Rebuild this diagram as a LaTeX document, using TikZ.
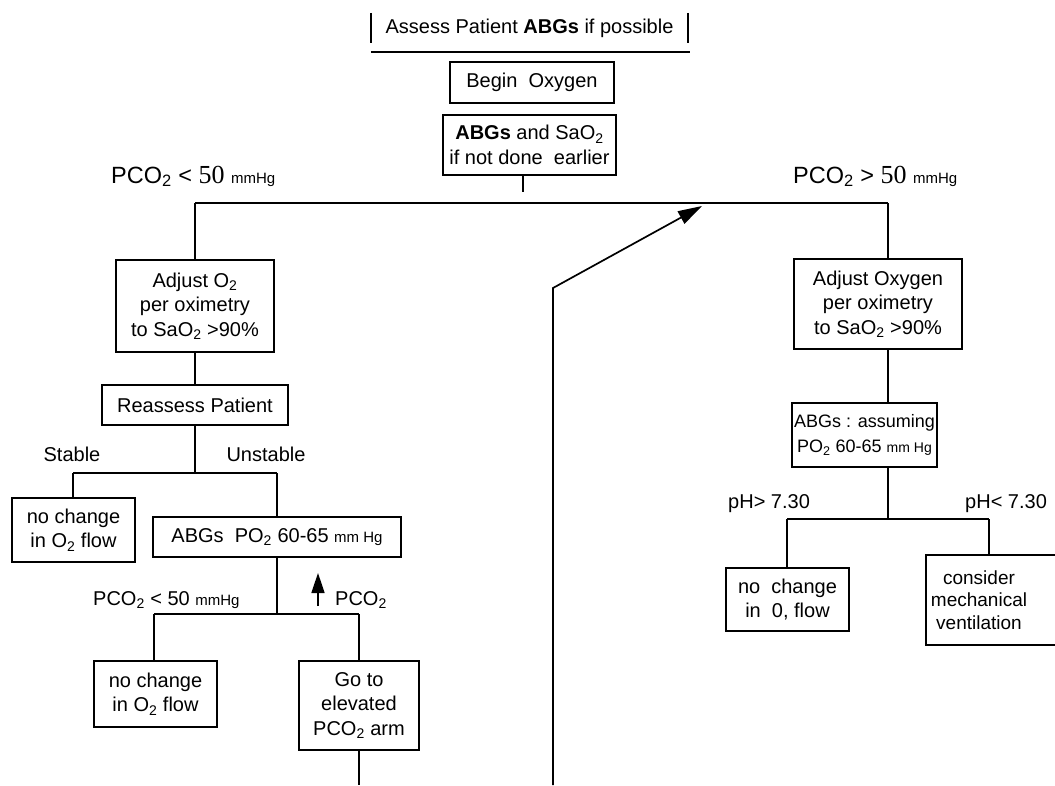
\documentclass[tikz,border=0pt]{standalone}
\usepackage{fontspec}
\setmainfont{Liberation Sans}
\newfontfamily\serifnum{Liberation Serif}
\usetikzlibrary{arrows.meta}
\newcommand{\bodyfs}{\fontsize{20}{24.5}\selectfont}
\newcommand{\smallfs}{\fontsize{15}{18}\selectfont}
\newcommand{\bigfs}{\fontsize{23.5}{27}\selectfont}
\newcommand{\sbt}{\textsubscript{2}}
\begin{document}
\begin{tikzpicture}[x=1pt,y=-1pt,
  box/.style={draw, line width=1.7pt, align=center, inner sep=0pt, font=\bodyfs},
  lab/.style={inner sep=0pt, font=\bodyfs},
  conn/.style={line width=1.7pt},
]
\useasboundingbox (0,0) rectangle (1055,785);
\clip (0,0) rectangle (1055,785);

% top
\node[lab, minimum width=317pt, minimum height=30pt] (assess) at (529.5,28) {Assess Patient \textbf{ABGs} if possible};
\draw[conn] (assess.north west) -- (assess.south west);
\draw[conn] (assess.north east) -- (assess.south east);
\draw[conn] ([yshift=-9pt]assess.south west) -- ([yshift=-9pt,xshift=2pt]assess.south east);

\node[box, minimum width=164pt, minimum height=41pt] (begin) at (532,82.5) {Begin\ \ Oxygen};
\node[box, minimum width=173pt, minimum height=60pt] (abg1) at (529.5,145) {\textbf{ABGs} and SaO\sbt\\if not done\ \ earlier};

\node[anchor=base west, inner sep=0pt, font=\bigfs] (topL) at (111,183) {PCO\sbt{} < {\serifnum\fontsize{26}{28}\selectfont 50} {\smallfs mmHg}};
\node[anchor=base west, inner sep=0pt, font=\bigfs] (topR) at (793,183) {PCO\sbt{} > {\serifnum\fontsize{26}{28}\selectfont 50} {\smallfs mmHg}};

\coordinate (stub) at (523,192);
\coordinate (hL) at (195,203);
\coordinate (hR) at (888,203);
\draw[conn] (stub |- abg1.south) -- (stub);
\draw[conn] (hL) -- (hR);

% left branch
\node[box, minimum width=158pt, minimum height=92pt] (adjL) at (195,306) {Adjust O\sbt\\per oximetry\\to SaO\sbt{} >90\%};
\node[box, minimum width=186pt, minimum height=40pt] (reassess) at (195,405) {Reassess Patient};
\draw[conn] (hL) -- (adjL.north);
\draw[conn] (adjL.south) -- (reassess.north);

\node[lab, anchor=base] (stable) at (72,461) {Stable};
\node[lab, anchor=base] (unstable) at (266,461) {Unstable};
\coordinate (j1) at (195,473);
\coordinate (j1L) at (73,473);
\coordinate (j1R) at (277,473);
\draw[conn] (reassess.south) -- (j1);
\draw[conn] (j1L) -- (j1R);

\node[box, minimum width=123pt, minimum height=64pt] (nochg1) at (73.5,530) {no change\\in O\sbt{} flow};
\node[box, minimum width=248pt, minimum height=40pt] (abgs2) at (277,537) {ABGs\ \ PO\sbt{} 60-65 {\smallfs mm Hg}};
\draw[conn] (j1L) -- (j1L |- nochg1.north);
\draw[conn] (j1R) -- (j1R |- abgs2.north);

\coordinate (j2) at (277,614);
\coordinate (j2L) at (154,614);
\coordinate (j2R) at (359,614);
\draw[conn] (j2 |- abgs2.south) -- (j2);
\draw[conn] (j2L) -- (j2R);
\node[lab, anchor=base west] (lowL) at (93,605) {PCO\sbt{} < 50 {\smallfs mmHg}};
\coordinate (upA) at (318,606);
\coordinate (upB) at (318,573);
\draw[line width=1.7pt, -{Triangle[length=20pt,width=13pt]}] (upA) -- (upB);
\node[lab, anchor=base west] (lowR) at (335,605) {PCO\sbt};

\node[box, minimum width=123pt, minimum height=66pt] (nochg2) at (155.5,694) {no change\\in O\sbt{} flow};
\node[box, minimum width=120pt, minimum height=89pt] (goto) at (359,705.5) {Go to\\elevated\\PCO\sbt{} arm};
\draw[conn] (j2L) -- (j2L |- nochg2.north);
\draw[conn] (j2R) -- (j2R |- goto.north);
\coordinate (gotoEnd) at (359,785);
\draw[conn] (goto.south) -- (gotoEnd);

% middle return arrow
\coordinate (aBot) at (553,785);
\coordinate (aBend) at (553,288);
\coordinate (aTip) at (702,206);
\draw[conn, -{Triangle[length=24pt,width=14pt]}] (aBot) -- (aBend) -- (aTip);

% right branch
\node[box, minimum width=168pt, minimum height=90pt] (adjR) at (878,304) {Adjust Oxygen\\per oximetry\\to SaO\sbt{} >90\%};
\node[box, minimum width=145pt, minimum height=64pt, font=\fontsize{18}{24.5}\selectfont] (abgR) at (864.5,435) {ABGs : assuming\\PO\sbt{} 60-65 {\fontsize{14}{17}\selectfont mm Hg}};
\draw[conn] (hR) -- (hR |- adjR.north);
\draw[conn] (hR |- adjR.south) -- (hR |- abgR.north);

\coordinate (j3) at (888,519);
\coordinate (j3L) at (787,519);
\coordinate (j3R) at (989,519);
\draw[conn] (j3 |- abgR.south) -- (j3);
\draw[conn] (j3L) -- (j3R);
\node[lab, anchor=base west] (phg) at (728,508) {pH> 7.30};
\node[lab, anchor=base west] (phl) at (965,508) {pH< 7.30};

\node[box, minimum width=123pt, minimum height=63pt] (nochgR) at (787.5,599.5) {no\ \ change\\in\ \ 0, flow};
\node[box, minimum width=150pt, minimum height=90pt] (consbox) at (1001,600) {};
\node[lab, align=center, font=\fontsize{19}{22.5}\selectfont] (cons) at (979,600) {consider\\mechanical\\ventilation};
\draw[conn] (j3L) -- (j3L |- nochgR.north);
\draw[conn] (j3R) -- (j3R |- consbox.north);
\end{tikzpicture}
\end{document}
